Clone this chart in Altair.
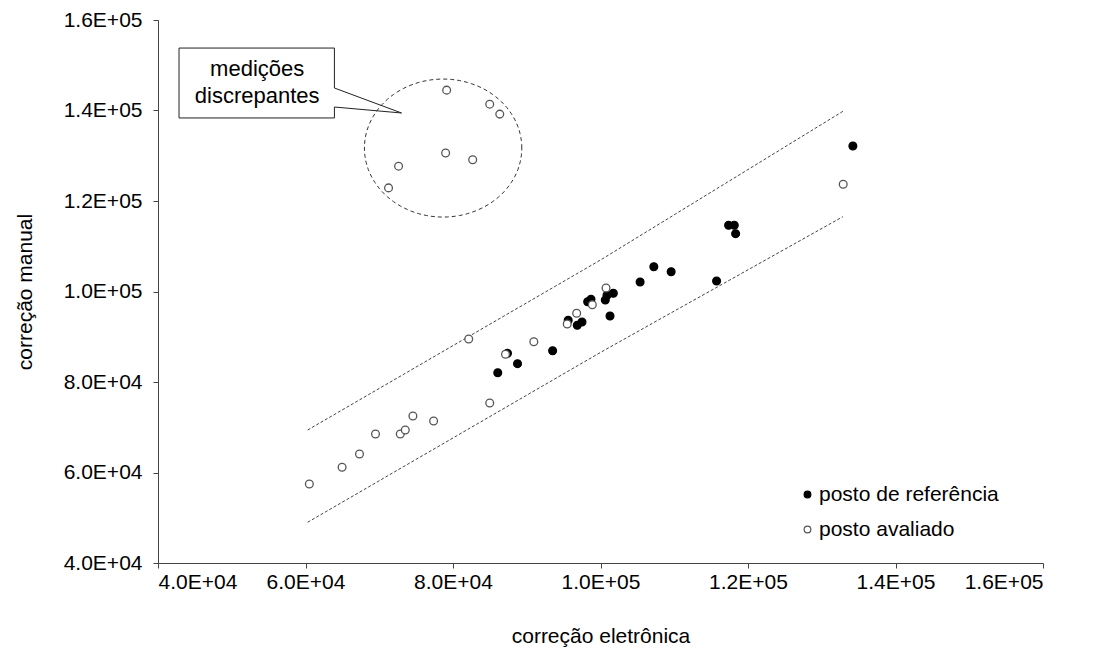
import altair as alt
import numpy as np
import pandas as pd

# Data
ref_x = [86070, 87390, 88750, 93510, 95620, 96850, 97490, 98260, 98710, 100650, 100880,
         101740, 101290, 105370, 107230, 109580, 115740, 117370, 118140, 118320, 134220]
ref_y = [82060, 86340, 84050, 86920, 93640, 92530, 93260, 97750, 98280, 98120, 99160,
         99600, 94590, 102100, 105480, 104380, 102320, 114630, 114630, 112780, 132160]
aval_x = [60520, 64960, 67320, 69490, 72850, 73530, 74560, 77370, 82130, 84980, 87120,
          90960, 95490, 96770, 98890, 100750, 132910,
          79140, 84980, 86340, 79000, 82670, 72620, 71260]
aval_y = [57460, 61150, 64090, 68510, 68510, 69390, 72490, 71380, 89500, 75360, 86120,
          88910, 92820, 95180, 97080, 100780, 123690,
          144500, 141400, 139200, 130600, 129100, 127700, 122900]
series_names = ["posto de referência", "posto avaliado"]

# Band lines (dotted)
upper_x = [60290, 100000, 132950]
upper_y = [69390, 106960, 139900]
lower_x = [60290, 100000, 132860]
lower_y = [49000, 86540, 116530]

# Annotation: ellipse around discrepant measurements
ell_cx, ell_cy, ell_rx, ell_ry = 78660, 131700, 10670, 15250
# Callout box outline (data units)
box_x = [42850, 63920, 63920, 73020, 63920, 63920, 42850, 42850]
box_y = [153800, 153800, 144970, 139450, 140770, 138350, 138350, 153800]
label_lines = ["medições", "discrepantes"]
label_x = [53450, 53450]
label_y = [149100, 143100]

pts = pd.DataFrame({
    "x": ref_x + aval_x,
    "y": ref_y + aval_y,
    "serie": [series_names[0]] * len(ref_x) + [series_names[1]] * len(aval_x),
})

bands = pd.DataFrame({
    "x": upper_x + lower_x,
    "y": upper_y + lower_y,
    "g": ["up"] * len(upper_x) + ["lo"] * len(lower_x),
    "o": list(range(len(upper_x))) + list(range(len(lower_x))),
})

t = np.linspace(0, 2 * np.pi, 121)
ell = pd.DataFrame({"x": ell_cx + ell_rx * np.cos(t), "y": ell_cy + ell_ry * np.sin(t), "o": np.arange(len(t))})
box = pd.DataFrame({"x": box_x, "y": box_y, "o": list(range(len(box_x)))})
labels = pd.DataFrame({"x": label_x, "y": label_y, "t": label_lines})

fmt = "datum.value >= 100000 ? format(datum.value/100000, '.1f') + 'E+05' : format(datum.value/10000, '.1f') + 'E+04'"

xs = alt.Scale(domain=[40000, 160000], nice=False, zero=False)
ys = alt.Scale(domain=[40000, 160000], nice=False, zero=False)

FS = 21
xax = alt.Axis(values=[40000, 60000, 80000, 100000, 120000, 140000, 160000], labelExpr=fmt,
               title="correção eletrônica", grid=False, domainColor="#444", tickColor="#444",
               tickSize=5, labelFontSize=FS, titleFontSize=FS, labelFont="Liberation Sans",
               titleFont="Liberation Sans", titleFontWeight="normal", labelColor="#000",
               titleColor="#000", labelPadding=3, titlePadding=33)
yax = alt.Axis(values=[40000, 60000, 80000, 100000, 120000, 140000, 160000], labelExpr=fmt,
               title="correção manual", grid=False, domainColor="#444", tickColor="#444",
               tickSize=5, labelFontSize=FS, titleFontSize=FS, labelFont="Liberation Sans",
               titleFont="Liberation Sans", titleFontWeight="normal", labelColor="#000",
               titleColor="#000", labelPadding=11, titlePadding=28)

band_layer = alt.Chart(bands).mark_line(color="#444", strokeWidth=1, strokeDash=[3, 2]).encode(
    x=alt.X("x:Q", scale=xs, axis=xax),
    y=alt.Y("y:Q", scale=ys, axis=yax),
    detail="g:N",
    order="o:Q",
)

ell_layer = alt.Chart(ell).mark_line(color="#333", strokeWidth=1, strokeDash=[4, 3]).encode(
    x=alt.X("x:Q", scale=xs), y=alt.Y("y:Q", scale=ys), order="o:Q"
)

box_layer = alt.Chart(box).mark_line(color="#222", strokeWidth=1).encode(
    x=alt.X("x:Q", scale=xs), y=alt.Y("y:Q", scale=ys), order="o:Q"
)

text_layer = alt.Chart(labels).mark_text(font="Liberation Sans", fontSize=22, color="#000",
                                         align="center", baseline="middle").encode(
    x=alt.X("x:Q", scale=xs), y=alt.Y("y:Q", scale=ys), text="t:N"
)

point_layer = alt.Chart(pts).mark_point(shape="circle", size=60, strokeWidth=1.3, opacity=1,
                                        fillOpacity=1).encode(
    x=alt.X("x:Q", scale=xs),
    y=alt.Y("y:Q", scale=ys),
    fill=alt.Fill("serie:N", scale=alt.Scale(domain=series_names, range=["#000000", "#ffffff"]),
                  legend=alt.Legend(title=None, orient="none", legendX=639, legendY=464,
                                    labelFontSize=FS, labelFont="Liberation Sans", labelColor="#000",
                                    labelLimit=400, symbolSize=45, symbolStrokeWidth=1.2,
                                    rowPadding=13, labelOffset=1, padding=0,
                                    symbolStrokeColor="#000")),
    stroke=alt.Stroke("serie:N", scale=alt.Scale(domain=series_names, range=["#000000", "#555555"]),
                      legend=None),
)

chart = alt.layer(band_layer, ell_layer, box_layer, text_layer, point_layer).properties(
    width=885, height=543,
    autosize=alt.AutoSizeParams(type="none"),
    padding={"left": 158, "top": 20, "right": 57, "bottom": 91},
    background="white",
).configure_view(stroke=None)

chart.save("out.html", embed_options={"renderer": "svg", "actions": False})
